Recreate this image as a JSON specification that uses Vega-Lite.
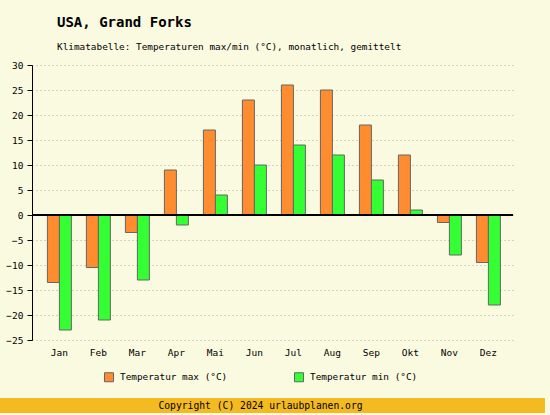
{
  "$schema": "https://vega.github.io/schema/vega-lite/v6.json",
  "background": "#FAFAE0",
  "padding": {"left": 0, "top": 15, "right": 5, "bottom": 2},
  "autosize": {"type": "pad"},
  "spacing": 58,
  "center": true,
  "bounds": "flush",
  "resolve": {"scale": {"color": "independent"}, "legend": {"color": "independent"}},
  "config": {
    "font": "DejaVu Sans Mono",
    "view": {"stroke": null},
    "axis": {"labelFont": "DejaVu Sans Mono", "labelFontSize": 9.5, "labelColor": "#000000", "labelOverlap": false},
    "title": {"font": "DejaVu Sans Mono", "subtitleFont": "DejaVu Sans Mono"}
  },
  "vconcat": [
    {
      "width": 481,
      "height": 275,
      "title": {
        "text": "USA, Grand Forks",
        "subtitle": "Klimatabelle: Temperaturen max/min (°C), monatlich, gemittelt",
        "anchor": "start",
        "frame": "group",
        "dx": 25,
        "offset": 9,
        "fontSize": 14,
        "fontWeight": "bold",
        "color": "#000000",
        "subtitleFontSize": 9.4,
        "subtitleColor": "#000000",
        "subtitlePadding": 13
      },
      "data": {
        "values": [
          {"Monat": "Jan", "Reihe": "Temperatur max (°C)", "Wert": -13.5},
          {"Monat": "Jan", "Reihe": "Temperatur min (°C)", "Wert": -23},
          {"Monat": "Feb", "Reihe": "Temperatur max (°C)", "Wert": -10.5},
          {"Monat": "Feb", "Reihe": "Temperatur min (°C)", "Wert": -21},
          {"Monat": "Mar", "Reihe": "Temperatur max (°C)", "Wert": -3.5},
          {"Monat": "Mar", "Reihe": "Temperatur min (°C)", "Wert": -13},
          {"Monat": "Apr", "Reihe": "Temperatur max (°C)", "Wert": 9},
          {"Monat": "Apr", "Reihe": "Temperatur min (°C)", "Wert": -2},
          {"Monat": "Mai", "Reihe": "Temperatur max (°C)", "Wert": 17},
          {"Monat": "Mai", "Reihe": "Temperatur min (°C)", "Wert": 4},
          {"Monat": "Jun", "Reihe": "Temperatur max (°C)", "Wert": 23},
          {"Monat": "Jun", "Reihe": "Temperatur min (°C)", "Wert": 10},
          {"Monat": "Jul", "Reihe": "Temperatur max (°C)", "Wert": 26},
          {"Monat": "Jul", "Reihe": "Temperatur min (°C)", "Wert": 14},
          {"Monat": "Aug", "Reihe": "Temperatur max (°C)", "Wert": 25},
          {"Monat": "Aug", "Reihe": "Temperatur min (°C)", "Wert": 12},
          {"Monat": "Sep", "Reihe": "Temperatur max (°C)", "Wert": 18},
          {"Monat": "Sep", "Reihe": "Temperatur min (°C)", "Wert": 7},
          {"Monat": "Okt", "Reihe": "Temperatur max (°C)", "Wert": 12},
          {"Monat": "Okt", "Reihe": "Temperatur min (°C)", "Wert": 1},
          {"Monat": "Nov", "Reihe": "Temperatur max (°C)", "Wert": -1.5},
          {"Monat": "Nov", "Reihe": "Temperatur min (°C)", "Wert": -8},
          {"Monat": "Dez", "Reihe": "Temperatur max (°C)", "Wert": -9.5},
          {"Monat": "Dez", "Reihe": "Temperatur min (°C)", "Wert": -18}
        ]
      },
      "layer": [
        {
          "mark": {"type": "bar", "stroke": "#666666", "strokeWidth": 1},
          "encoding": {
            "x": {
              "field": "Monat",
              "type": "nominal",
              "sort": ["Jan", "Feb", "Mar", "Apr", "Mai", "Jun", "Jul", "Aug", "Sep", "Okt", "Nov", "Dez"],
              "scale": {"paddingInner": 0.385, "paddingOuter": 0.359, "align": 0.55},
              "axis": {"title": null, "domain": false, "ticks": false, "grid": false, "labelAngle": 0, "labelPadding": 7}
            },
            "xOffset": {
              "field": "Reihe",
              "type": "nominal",
              "sort": ["Temperatur max (°C)", "Temperatur min (°C)"],
              "scale": {"paddingInner": 0, "paddingOuter": 0}
            },
            "y": {
              "field": "Wert",
              "type": "quantitative",
              "scale": {"domain": [-25, 30], "nice": false, "zero": false},
              "axis": {
                "title": null,
                "values": [-25, -20, -15, -10, -5, 0, 5, 10, 15, 20, 25, 30],
                "tickCount": 12,
                "domainColor": "#000000",
                "tickColor": "#000000",
                "tickSize": 5,
                "labelPadding": 4,
                "grid": true,
                "gridColor": "#aaaaaa",
                "gridDash": [1, 3]
              }
            },
            "color": {
              "field": "Reihe",
              "type": "nominal",
              "scale": {"domain": ["Temperatur max (°C)", "Temperatur min (°C)"], "range": ["#FF8C2F", "#33FF33"]},
              "legend": {
                "title": null,
                "orient": "none",
                "direction": "horizontal",
                "legendX": 72,
                "legendY": 307,
                "padding": 0,
                "symbolType": "square",
                "symbolSize": 81,
                "symbolStrokeColor": "#666666",
                "symbolStrokeWidth": 1,
                "symbolOpacity": 1,
                "labelFontSize": 9.4,
                "labelFont": "DejaVu Sans Mono",
                "labelColor": "#000000",
                "labelOffset": 6,
                "columnPadding": 64
              }
            }
          }
        },
        {
          "mark": {"type": "rule", "color": "#000000", "strokeWidth": 1},
          "encoding": {"y": {"datum": 0}}
        }
      ]
    },
    {
      "width": 545,
      "height": 15,
      "view": {"fill": "#F3BA22", "stroke": null},
      "data": {"values": [{"Text": "Copyright (C) 2024 urlaubplanen.org"}]},
      "mark": {"type": "text", "font": "DejaVu Sans Mono", "fontSize": 9.7, "color": "#000000", "dx": -12},
      "encoding": {"text": {"field": "Text", "type": "nominal"}}
    }
  ]
}
